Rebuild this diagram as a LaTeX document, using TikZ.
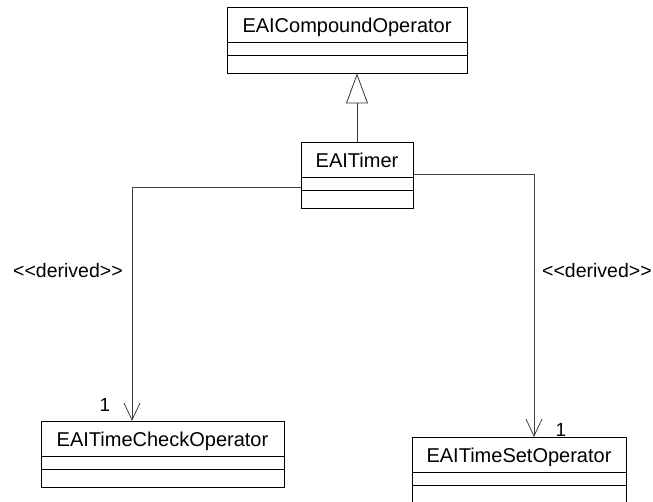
\documentclass[tikz,border=0pt]{standalone}
\usepackage{fontspec}
\setmainfont[Ligatures=TeXOff]{Liberation Sans}
\usetikzlibrary{arrows.meta}
\tikzset{
  classname/.style={draw=black, line width=0.8pt, inner sep=0pt, outer sep=0pt,
    anchor=north west, minimum height=35pt, text height=16.5pt, text depth=0pt,
    font=\fontsize{20}{24}\selectfont},
  compart/.style={draw=black, line width=0.8pt},
  shadowedge/.style={draw=black, line width=1.8pt},
  dep/.style={draw=black!75, line width=0.8pt, -{Straight Barb[length=17pt,width=16pt,line width=0.8pt]}},
  gen/.style={draw=black!80, line width=0.8pt, -{Triangle[open,length=30pt,width=22pt,line width=0.8pt]}},
  lbl/.style={anchor=base west, inner sep=0pt, font=\fontsize{19.5}{23}\selectfont},
  mult/.style={anchor=base west, inner sep=0pt, font=\fontsize{19}{23}\selectfont}
}
\newcommand{\umlcomparts}[1]{%
  \draw[compart] (#1.south west) rectangle ([yshift=-13pt]#1.south east);
  \draw[compart] ([yshift=-13pt]#1.south west) rectangle ([yshift=-31pt]#1.south east);
  \draw[shadowedge] ([xshift=0.5pt]#1.north east) -- ([xshift=0.5pt,yshift=-31.5pt]#1.south east) -- ([yshift=-31.5pt]#1.south west);
}
\begin{document}
\begin{tikzpicture}[x=1pt,y=-1pt]
\useasboundingbox (0,0) rectangle (653,502);
\clip (0,0) rectangle (653,502);
\fill[white] (0,0) rectangle (653,502);

\node[classname, minimum width=240pt] (cmp) at (227,7) {EAICompoundOperator};
\umlcomparts{cmp}
\node[classname, minimum width=112pt] (timer) at (301,142) {EAITimer};
\umlcomparts{timer}
\node[classname, minimum width=243pt] (check) at (41,421) {EAITimeCheckOperator};
\umlcomparts{check}
\node[classname, minimum width=214pt] (set) at (412,437) {EAITimeSetOperator};
\umlcomparts{set}

% generalization
\coordinate (cmpbot) at ([yshift=-31.5pt]cmp.south);
\draw[gen] (timer.north) -- (timer.north |- cmpbot);

% dependencies
\coordinate (tl) at ([yshift=-10pt]timer.south west);
\coordinate (ct) at ([xshift=-30.5pt]check.north);
\draw[dep] (tl) -| (ct);
\coordinate (tr) at ([yshift=3pt]timer.south east);
\coordinate (st) at ([xshift=15pt]set.north);
\draw[dep] (tr) -| (st);

% labels
\node[lbl] (d1) at (13,278) {<<derived>>};
\node[lbl] (d2) at (542,278) {<<derived>>};
\node[mult] (m1) at (99.5,411) {1};
\node[mult] (m2) at (555.5,436) {1};
\end{tikzpicture}
\end{document}
